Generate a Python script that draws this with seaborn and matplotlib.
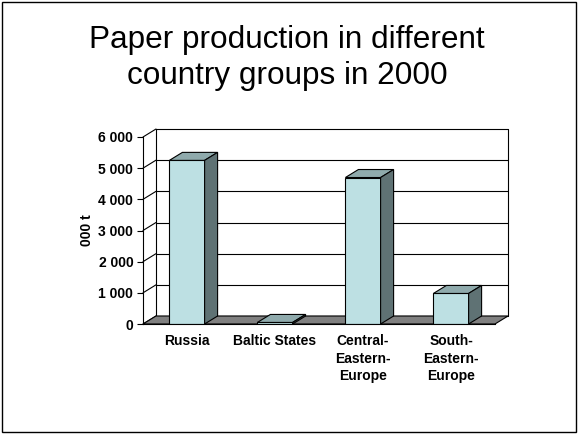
import matplotlib
matplotlib.use("Agg")
import matplotlib.pyplot as plt
import matplotlib.transforms as mtransforms
from matplotlib.patches import Polygon, Rectangle
from matplotlib.lines import Line2D
import seaborn as sns
import pandas as pd

categories = ["Russia", "Baltic States", "Central-\nEastern-\nEurope", "South-\nEastern-\nEurope"]
production = [5250, 50, 4700, 980]
yticks = [0, 1000, 2000, 3000, 4000, 5000, 6000]
ytick_labels = ["0", "1 000", "2 000", "3 000", "4 000", "5 000", "6 000"]
title_lines = ["Paper production in different", "country groups in 2000"]

df = pd.DataFrame({"group": categories, "kt": production})

sns.set_theme(style="white", rc={"text.color": "black", "axes.labelcolor": "black",
                                 "xtick.color": "black", "ytick.color": "black"})
plt.rcParams["font.family"] = ["Liberation Sans", "DejaVu Sans"]

W, H = 587, 437
fig = plt.figure(figsize=(W / 100, H / 100), dpi=100)
fig.patch.set_facecolor("white")

# front plane of the 3d box, in pixels
x0, x1, yb, yt = 143, 495, 324, 137
ax = fig.add_axes([x0 / W, (H - yb) / H, (x1 - x0) / W, (yb - yt) / H])
ax.set_facecolor("none")

front = "#bde0e3"
top_c = "#8faaac"
side_c = "#5f7274"

sns.barplot(data=df, x="group", y="kt", color=front, width=0.4,
            edgecolor="black", linewidth=0.8, saturation=1, ax=ax, zorder=2)

ax.set_xlim(-0.5, 3.5)
ax.set_ylim(0, 6000)
ax.set_autoscale_on(False)

ax.set_yticks(yticks)
ax.set_yticklabels(ytick_labels, fontweight="bold", fontsize=10)
ax.set_xticks(range(len(categories)))
ax.set_xticklabels(categories, fontweight="bold", fontsize=10, linespacing=1.35)
ax.set_xticks([-0.5, 0.5, 1.5, 2.5, 3.5], minor=True)
ax.tick_params(axis="x", which="major", length=0, pad=7)
ax.tick_params(axis="x", which="minor", length=4, width=0.8, color="black", direction="out")
ax.tick_params(axis="y", length=4, width=0.8, color="black", direction="out", pad=3, left=True)
ax.set_xlabel("")
ax.set_ylabel("000 t", fontweight="bold", fontsize=10, labelpad=3)
for s in ["top", "right"]:
    ax.spines[s].set_visible(False)
for s in ["left", "bottom"]:
    ax.spines[s].set_color("black")
    ax.spines[s].set_linewidth(0.8)
ax.grid(False)

# depth offset in pixels
dx, dy = 13, 8
ident = mtransforms.IdentityTransform()
to_px = ax.transData.transform

# back wall, gridlines and the diagonal ticks on the side wall
px_l, _ = to_px((-0.5, 0))
px_r, _ = to_px((3.5, 0))
for v in yticks:
    _, py = to_px((0, v))
    ax.add_line(Line2D([px_l + dx, px_r + dx], [py + dy, py + dy], transform=ident,
                       color="black", lw=0.8, zorder=0.2, clip_on=False))
    ax.add_line(Line2D([px_l, px_l + dx], [py, py + dy], transform=ident,
                       color="black", lw=0.8, zorder=0.2, clip_on=False))
_, p0 = to_px((0, 0))
_, p6 = to_px((0, 6000))
for xx in [px_l + dx, px_r + dx]:
    ax.add_line(Line2D([xx, xx], [p0 + dy, p6 + dy], transform=ident,
                       color="black", lw=0.8, zorder=0.2, clip_on=False))

# floor
floor = Polygon([(px_l, p0), (px_r, p0), (px_r + dx, p0 + dy), (px_l + dx, p0 + dy)],
                closed=True, transform=ident, facecolor="#808080", edgecolor="black",
                lw=0.8, zorder=0.5, clip_on=False)
ax.add_patch(floor)

# top and side faces of each bar
for bar in list(ax.patches):
    if bar is floor:
        continue
    bx0, by0 = to_px((bar.get_x(), bar.get_y()))
    bx1, by1 = to_px((bar.get_x() + bar.get_width(), bar.get_y() + bar.get_height()))
    top = Polygon([(bx0, by1), (bx1, by1), (bx1 + dx, by1 + dy), (bx0 + dx, by1 + dy)],
                  closed=True, transform=ident, facecolor=top_c, edgecolor="black",
                  lw=0.8, zorder=2.1, clip_on=False)
    side = Polygon([(bx1, by0), (bx1 + dx, by0 + dy), (bx1 + dx, by1 + dy), (bx1, by1)],
                   closed=True, transform=ident, facecolor=side_c, edgecolor="black",
                   lw=0.8, zorder=2.1, clip_on=False)
    ax.add_patch(top)
    ax.add_patch(side)

for line, base in zip(title_lines, [48, 84]):
    fig.text(287 / W, 1 - base / H, line, ha="center", va="baseline", fontsize=22.7)

fig.add_artist(Rectangle((2 / W, 5 / H), 574 / W, 430 / H, transform=fig.transFigure,
                         fill=False, edgecolor="black", lw=1))

fig.savefig("out.png", dpi=100)
